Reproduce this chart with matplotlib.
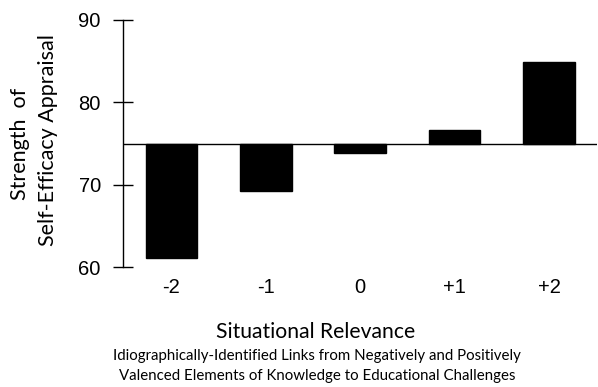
import matplotlib.pyplot as plt
import numpy as np

# ── Data ──────────────────────────────────────────────────────────────────────
categories = ["-2", "-1", "0", "+1", "+2"]
values     = [61.1, 69.2, 73.9, 76.7, 84.9]
baseline   = 75
y_ticks    = [60, 70, 80, 90]

label_font = ["Lato", "DejaVu Sans"]
tick_font  = ["Liberation Sans", "DejaVu Sans"]

fig = plt.figure(figsize=(5.98, 3.87), dpi=100)
ax = fig.add_axes([123 / 598, 1 - 267.3 / 387, (597 - 123) / 598, (267.3 - 20) / 387])

x = np.arange(len(categories))
heights = [v - baseline for v in values]
ax.bar(x, heights, bottom=baseline, width=0.547, color="black", edgecolor="black")
ax.axhline(baseline, color="black", linewidth=1.0)

ax.set_xlim(-0.513, len(categories) - 1 + 0.508)
ax.set_ylim(60, 90)
ax.set_yticks(y_ticks)
ax.set_xticks(x)
ax.set_xticklabels(categories, family=tick_font, fontsize=14.5)
for lbl in ax.get_yticklabels():
    lbl.set_family(tick_font)
    lbl.set_fontsize(14.5)

for s in ["top", "right", "bottom"]:
    ax.spines[s].set_visible(False)
ax.spines["left"].set_linewidth(1.0)
ax.tick_params(axis="y", direction="inout", length=14, width=1.0, pad=9)
ax.tick_params(axis="x", length=0, pad=8)

# two-line y label
fig.text(20 / 598, 1 - 144 / 387, "Strength  of", rotation=90, ha="center", va="center",
         family=label_font, fontsize=15.5)
fig.text(48 / 598, 1 - 140 / 387, "Self-Efficacy Appraisal", rotation=90, ha="center",
         va="center", family=label_font, fontsize=15.5)

# x label block
fig.text(316 / 598, 1 - 332 / 387, "Situational Relevance", ha="center", va="center",
         family=label_font, fontsize=15.2)
fig.text(317 / 598, 1 - 356 / 387,
         "Idiographically-Identified Links from Negatively and Positively",
         ha="center", va="center", family=label_font, fontsize=10.8)
fig.text(317 / 598, 1 - 376 / 387,
         "Valenced Elements of Knowledge to Educational Challenges",
         ha="center", va="center", family=label_font, fontsize=10.8)

plt.savefig("out.png", dpi=100, facecolor="white")
